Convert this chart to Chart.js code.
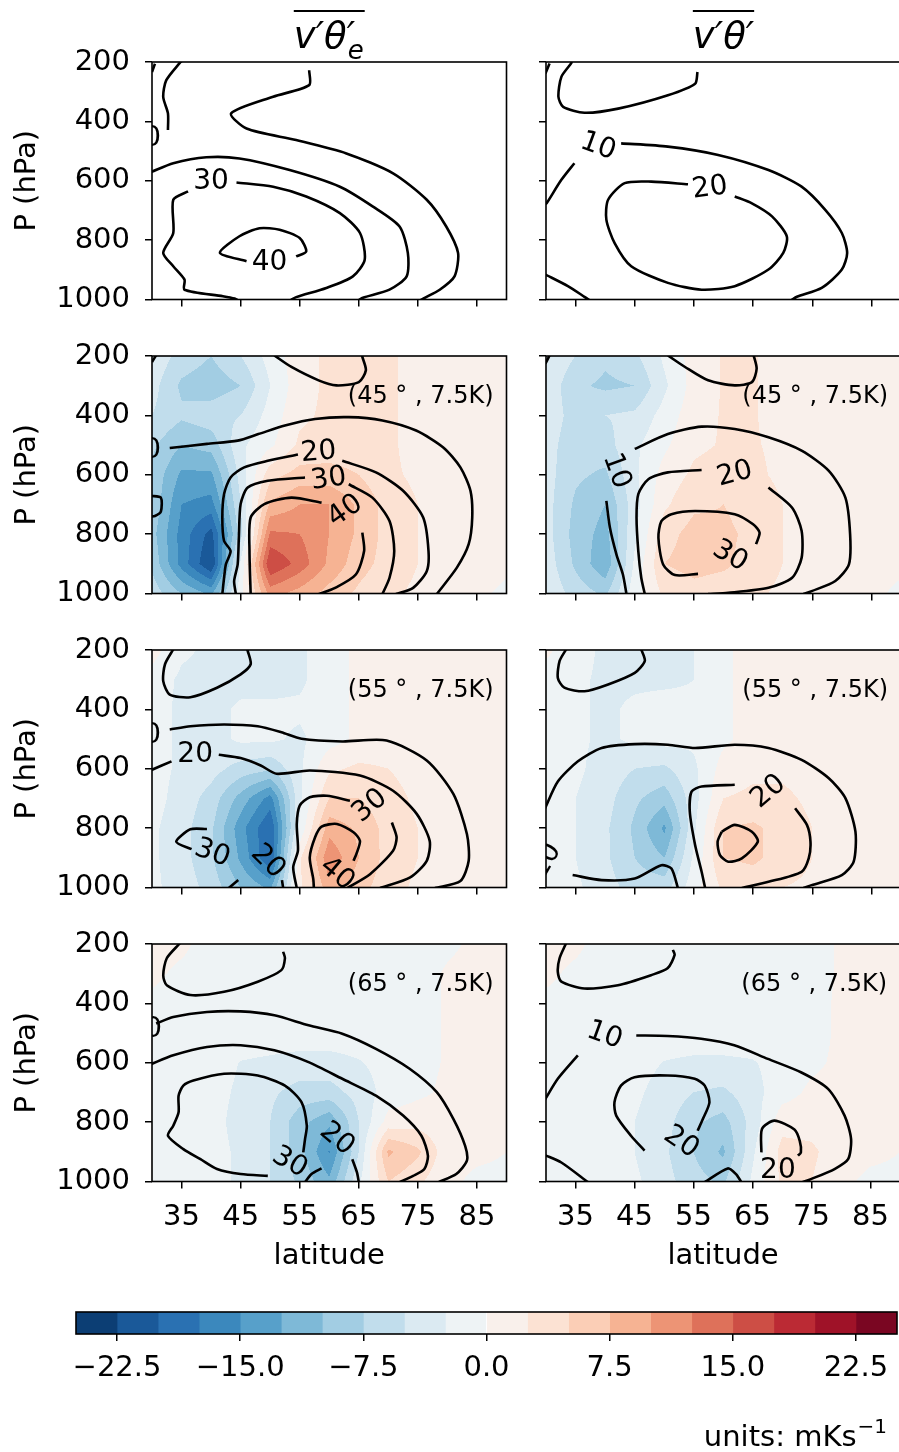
<!DOCTYPE html>
<html lang="en">
<head>
<meta charset="UTF-8">
<title>Eddy heat flux sections</title>
<script src="https://cdn.jsdelivr.net/npm/chart.js"></script>
<style>
    body {
        margin: 0;
        padding: 0;
        width: 899px;
        height: 1452px;
        overflow: hidden;
        background: #fff;
        position: relative;
    }
    canvas {
        position: absolute;
    }
</style>
</head>
<body>
<script>
// grid of the filled fields: latitude columns, pressure rows
const latGrid = [30, 35, 40, 45, 50, 55, 60, 65, 70, 75, 80, 85, 90];
const presGrid = [200, 300, 400, 500, 600, 700, 800, 900, 1000];
const latTicks = [35, 45, 55, 65, 75, 85];
const presTicks = [200, 400, 600, 800, 1000];
const cbLevels = [-25, -22.5, -20, -17.5, -15, -12.5, -10, -7.5, -5, -2.5, 0, 2.5, 5, 7.5, 10, 12.5, 15, 17.5, 20, 22.5, 25];
const cbTicks = [-22.5, -15, -7.5, 0, 7.5, 15, 22.5];

// anomaly fields (mKs^-1), one row per pressure level
const fill45e = [
    [-3, -6, -7.5, -5, -1.5, 1.5, 3, 3, 3, 1.5, 1, 1, 1],
    [-4, -8, -9, -7.5, -2.5, 1.5, 3, 3, 3, 1.5, 1, 1, 1],
    [-5, -7, -6, -5, -1.5, 2, 3, 3, 3, 1.5, 1, 1, 1],
    [-7, -10, -9, -3, -0.5, 3, 3.5, 3.5, 3, 1.5, 1, 1, 1],
    [-8, -13, -13, -4, 4, 6, 6, 5, 3, 2, 1.5, 1, 1],
    [-8, -15, -16, -5, 8, 10, 10, 7, 4, 2.5, 1.5, 1, 1],
    [-9, -16, -21, -6, 13, 12.5, 10, 7, 4, 2.5, 1.5, 1, 1],
    [-8, -16, -22.6, -2, 17.5, 14, 9.5, 6, 4, 2.5, 1.5, 1, 0.5],
    [-6, -10, -13, -1, 11, 9, 6.5, 4.5, 3, 2, 1, 0.5, -0.5]
];
const fill45 = [
    [-2.5, -5, -7, -5.5, -2, 1, 2.7, 2.7, 1.5, 1, 1, 1, 1],
    [-3, -7, -8, -7.5, -3, 1, 2.7, 2.7, 1.5, 1, 1, 1, 1],
    [-3.5, -6, -5, -4.5, -1.5, 1.5, 2.7, 2.7, 1.5, 1, 1, 1, 1],
    [-4, -6.5, -6, -3, -0.5, 2, 2.7, 2.7, 2, 1, 1, 1, 1],
    [-4, -7, -8, -3, 1, 3, 3.5, 3, 2, 1.5, 1, 1, 1],
    [-4, -8, -10, -3.5, 2, 4.5, 5, 4, 2.5, 1.5, 1, 1, 1],
    [-4, -8.5, -11, -3, 4, 6, 5.5, 4.5, 2.5, 1.5, 1, 1, 1],
    [-3.5, -8, -12, -2, 5, 6, 5.5, 4, 2.5, 1.5, 1, 1, 0.5],
    [-3, -6, -8, -1, 3, 4, 3.5, 3, 2, 1.5, 1, 0.5, -0.5]
];
const fill55e = [
    [1, -2, -3, -3.5, -3.5, -3, -1, 0.5, 1, 1, 1, 1, 1],
    [-1, -3, -3.5, -3.5, -3.5, -3, -1, 0.5, 1, 1, 1, 1, 1],
    [-1.5, -3, -3.5, -2, -2, -2, -1, 0.5, 1, 1, 1, 1, 1],
    [-1.5, -3, -3.5, -2, -2, -3, -1, 0.5, 1, 1, 1, 1, 1],
    [-1.5, -3, -4, -6, -7, -3, 2, 3, 2.5, 1.5, 1, 1, 1],
    [-1.5, -3.5, -6, -11, -16, -3, 5, 5, 3.5, 2, 1.5, 1, 1],
    [-2, -4, -7, -14, -20, -2, 9, 7, 4, 2.5, 1.5, 1, 1],
    [-2, -4, -7, -13, -20, 2, 12, 7.5, 4, 2.5, 1.5, 1, 1],
    [-2, -3.5, -6, -10, -13, 2, 9, 6, 3.5, 2, 1.5, 1, 0]
];
const fill55 = [
    [0.5, -1.5, -3, -3, -3, -2.5, -0.5, 1, 1, 1, 1, 1, 1],
    [-1, -2, -3, -3, -3, -2.5, -0.5, 1, 1, 1, 1, 1, 1],
    [-1, -2, -3, -2, -1.5, -2, -0.5, 1, 1, 1, 1, 1, 1],
    [-1, -2, -3, -2, -1.5, -2, -0.5, 1, 1, 1, 1, 1, 1],
    [-1, -2, -3.5, -5, -5.5, -3, 1, 2, 2, 1.5, 1, 1, 1],
    [-1, -2.5, -4, -7, -9, -3.5, 2.5, 3, 3, 2, 1, 1, 1],
    [-1, -2.5, -4.5, -8, -13, -3, 5, 5.5, 4, 2.5, 1.5, 1, 1],
    [-1, -2.5, -4.5, -7.5, -10, -2, 5, 5.5, 4, 2.5, 1.5, 1, 1],
    [-1, -2, -4, -6, -6, -1, 3, 3.5, 2.5, 2, 1, 1, 0.5]
];
const fill65e = [
    [1, 0.5, -1, -1, -1, -1, -1, -1, -1, -1, -0.5, 0.5, 0.5],
    [0.5, -0.5, -1, -1, -1, -1, -1, -1, -1, -1, 0.3, 1, 0.5],
    [-0.5, -1, -1, -1, -1, -1, -1, -1, -1, -1, 0.3, 1, 1],
    [-0.5, -1, -1, -1, -1, -1, -1, -1, -1, -1, 0.3, 1, 1],
    [-1, -1, -1.2, -2.6, -3, -3.5, -3.5, -2.7, -1.5, -1, 0.3, 1, 1],
    [-1, -1, -1.5, -3, -4.5, -6, -6, -4, -1.5, -0.5, 0.5, 1, 1],
    [-1, -1, -1.5, -3.5, -5, -9, -12, -5, 1, 1.5, 0.8, 1, 0.5],
    [-1, -1, -1.5, -3, -5, -9, -15.2, -5, 8, 5.5, 1, 0.5, 0],
    [-1, -1, -1.5, -3, -5, -8, -12, -3, 5, 3, 0.5, -0.5, -0.5]
];
const fill65 = [
    [1, 0.5, -1, -1, -1, -1, -1, -1, -1, -1, 0.3, 1, 1],
    [0.5, -0.5, -1, -1, -1, -1, -1, -1, -1, -1, 0.3, 1, 1],
    [-0.5, -1, -1, -1, -1, -1, -1, -1, -1, -1, 0.5, 1, 1],
    [-0.5, -1, -1, -1, -1, -1, -1, -1, -1, -1, 0.5, 1, 1],
    [-1, -1, -1, -1.5, -2.6, -3, -3, -2.7, -1.5, -0.5, 0.5, 1, 1],
    [-1, -1, -1, -2, -3.5, -5, -5.5, -3.5, -1, 0.5, 0.8, 1, 1],
    [-1, -1, -1, -2.5, -4, -7, -8.5, -4, 1.5, 1.5, 1, 1, 0.5],
    [-1, -1, -1, -2.5, -4.5, -7.5, -10.5, -3, 3.5, 3, 1, 0.5, 0],
    [-1, -1, -1, -2, -4, -6.5, -8, -2, 3, 2.5, 0.5, -0.5, -0.5]
];

// contour lines of the full flux, [latitude, hPa] pieces split at the labels
const lines1L = [
    [[30, 234], [30.5, 206]],
    [[35, 198], [34.7, 203], [32.4, 262], [31.9, 318], [32.7, 373], [32.7, 429]],
    [[56.6, 228], [56.6, 278], [50.5, 317], [43.4, 373], [46.0, 424], [54.4, 463], [62.9, 508], [70.8, 575], [76.5, 664], [79.8, 754], [81.8, 843], [81.2, 922], [78.7, 967], [75.9, 997], [75.5, 1002]],
    [[29.8, 571], [33.6, 541], [39.2, 521], [44.8, 525], [53.3, 564], [61.8, 620], [67.4, 687], [71.9, 754], [73.3, 843], [73.1, 922], [70.2, 967], [65.7, 994], [65.0, 1002]],
    [[36.1, 636], [33.6, 664], [33.6, 776], [31.9, 843], [33.6, 888], [35.5, 933], [35.5, 967], [42.0, 989], [44.0, 997], [44.5, 1002]],
    [[44.3, 606], [50.5, 620], [56.1, 653], [61.8, 709], [65.2, 776], [66.0, 866], [64.0, 922], [59.5, 961], [54.4, 992], [53.5, 1002]],
    [[46.0, 871], [41.5, 843], [44.8, 787], [48.2, 760], [51.6, 765], [55.0, 793], [56.1, 838], [54.4, 855]]
];
const labels1L = [['10', 28.5, 460, 0], ['30', 40.0, 603, 0], ['40', 49.9, 877, 0]];

const lines1R = [
    [[29.9, 239], [30.6, 205]],
    [[34.3, 198], [34.3, 203], [32.6, 250], [32.1, 317], [32.9, 351], [36.5, 371], [42.2, 357], [50.6, 312], [55.2, 273], [55.6, 234]],
    [[29.9, 678], [30.1, 676], [32.6, 597], [34.8, 541]],
    [[42.7, 474], [50.6, 485], [59.1, 513], [67.6, 564], [73.2, 620], [77.2, 698], [80.0, 776], [80.9, 843], [80.0, 899], [76.6, 961], [72.4, 991], [71.5, 1002]],
    [[61.9, 653], [64.8, 676], [68.2, 720], [70.7, 787], [70.1, 843], [67.6, 899], [61.9, 955], [56.3, 967], [50.6, 944], [44.4, 888], [41.6, 810], [40.2, 731], [40.5, 664], [43.3, 608], [47.8, 603], [54.0, 612]],
    [[29.9, 916], [33.7, 955], [36.5, 991], [37.3, 1002]]
];
const labels1R = [['10', 38.8, 485, 20], ['20', 57.7, 625, -8]];

const lines2L = [
    [[30, 220], [30.7, 198]],
    [[50.7, 198], [53.6, 237], [58.2, 282], [61.2, 299], [65.0, 288], [66.2, 248], [65.6, 203], [65.5, 198]],
    [[29.8, 671], [31.5, 677], [31.5, 724], [30.5, 739], [29.8, 741]],
    [[33.0, 510], [39.3, 496], [44.5, 485], [48.0, 463], [52.5, 434], [57.6, 412], [63.3, 406], [69.0, 417], [74.7, 451], [79.3, 508], [82.2, 575], [83.9, 654], [84.2, 744], [83.6, 834], [81.6, 913], [78.2, 1002]],
    [[54.7, 532], [49.6, 553], [45.6, 575], [43.3, 609], [42.2, 665], [41.9, 744], [42.2, 823], [43.3, 857], [42.5, 902], [42.2, 947], [41.9, 1002]],
    [[62.2, 553], [67.9, 592], [72.5, 654], [75.9, 744], [76.8, 857], [76.5, 925], [74.2, 981], [71.3, 1002]],
    [[55.9, 609], [49.6, 620], [46.2, 643], [45.0, 699], [44.7, 812], [44.5, 902], [43.9, 958], [44.2, 1002]],
    [[63.3, 632], [67.3, 677], [70.2, 756], [71.0, 857], [70.2, 947], [69.0, 1002]],
    [[58.7, 694], [53.6, 677], [49.0, 699], [46.7, 744], [46.5, 857], [46.7, 1002]],
    [[65.6, 795], [65.9, 857], [64.5, 936], [61.0, 981], [58.2, 1002]]
];
const labels2L = [['10', 28.5, 519, 0], ['20', 58.2, 525, -5], ['30', 59.9, 615, -8], ['40', 62.7, 722, -35]];

const lines2R = [
    [[29.9, 226], [30.6, 198]],
    [[50.6, 198], [53.5, 237], [57.4, 282], [61.9, 299], [64.8, 288], [65.6, 243], [65.1, 198]],
    [[40.2, 688], [40.8, 778], [41.9, 868], [43.0, 936], [43.6, 1002]],
    [[45.0, 513], [50.6, 463], [56.3, 438], [61.9, 446], [67.6, 474], [73.2, 519], [77.8, 587], [80.6, 677], [81.4, 801], [81.2, 902], [78.9, 958], [74.9, 992], [73.5, 1002]],
    [[56.3, 584], [50.6, 592], [47.3, 615], [45.6, 665], [45.3, 744], [45.6, 857], [46.1, 947], [46.7, 1002]],
    [[67.6, 643], [71.6, 711], [73.2, 789], [73.2, 880], [71.6, 947], [67.6, 981], [60.8, 998], [57.4, 1002]],
    [[65.5, 834], [66.1, 795], [65.0, 767], [61.9, 733], [55.2, 722], [51.2, 733], [49.5, 756], [49.0, 812], [49.8, 902], [51.8, 938], [55.7, 934]]
];
const labels2R = [['10', 41.9, 587, 70], ['20', 61.9, 598, -15], ['30', 61.1, 874, 30]];

const lines3L = [
    [[33.6, 198], [32.2, 248], [31.9, 305], [33.0, 350], [36.5, 359], [41.0, 327], [45.0, 282], [46.7, 248], [46.2, 203], [46.1, 198]],
    [[33.0, 468], [36.5, 457], [42.2, 451], [47.9, 457], [51.9, 477], [55.3, 499], [62.2, 508], [69.7, 505], [76.5, 572], [81.0, 685], [83.3, 820], [83.6, 910], [82.2, 978], [77.9, 1002]],
    [[33.3, 575], [29.8, 605]],
    [[41.3, 553], [45.0, 564], [48.4, 589], [51.1, 617], [56.7, 606], [65.2, 623], [70.8, 674], [74.8, 752], [77.0, 843], [76.5, 910], [73.7, 966], [68.6, 1002]],
    [[39.3, 803], [36.5, 804], [34.1, 846], [36.7, 871]],
    [[43.0, 1002], [44.6, 975]],
    [[52.0, 975], [52.2, 1002]],
    [[63.5, 708], [59.6, 691], [56.7, 696], [55.0, 724], [54.5, 786], [54.7, 876], [53.9, 932], [54.5, 1002]],
    [[70.6, 781], [71.4, 831], [70.8, 876], [66.9, 955], [63.0, 1002]],
    [[64.1, 910], [64.6, 887], [65.2, 843], [64.1, 814], [61.3, 786], [58.7, 795], [57.6, 831], [56.7, 899], [57.3, 972], [57.4, 1002]]
];
const labels3L = [['10', 28.5, 490, 0], ['20', 37.3, 553, 0], ['30', 40.2, 885, 20], ['20', 49.6, 913, 45], ['30', 66.9, 725, -40], ['40', 61.3, 955, 40]];

const lines3R = [
    [[33.4, 198], [32.3, 237], [32.0, 294], [33.1, 327], [36.5, 339], [40.5, 316], [45.0, 277], [46.7, 237], [46.1, 198]],
    [[29.8, 735], [32.0, 643], [35.4, 575], [39.4, 530], [45.0, 517], [50.6, 519], [55.2, 530], [61.9, 519], [67.6, 530], [73.2, 570], [77.8, 632], [80.6, 699], [82.3, 812], [82.0, 913], [80.0, 958], [74.9, 992], [73.5, 1002]],
    [[61.9, 654], [56.3, 660], [54.6, 677], [54.3, 744], [55.2, 857], [56.3, 947], [56.9, 1002]],
    [[72.1, 733], [74.1, 789], [74.7, 846], [74.4, 902], [73.2, 947], [67.6, 981], [63.1, 1002]],
    [[59.7, 812], [61.9, 789], [64.8, 812], [65.8, 846], [63.1, 902], [60.8, 913], [59.4, 891], [59.0, 846], [59.7, 812]],
    [[34.5, 958], [39.4, 975], [45.0, 970], [49.5, 925], [51.2, 936], [52.3, 1002]]
];
const labels3R = [['20', 67.6, 677, -40], ['10', 30.0, 910, -60]];

const lines4L = [
    [[34.7, 198], [32.5, 248], [31.9, 305], [32.5, 339], [36.5, 372], [42.2, 361], [47.9, 327], [51.9, 288], [52.5, 248], [52.2, 226]],
    [[30.7, 468], [33.6, 446], [39.3, 429], [45.0, 427], [50.7, 440], [56.5, 474], [62.2, 502], [67.9, 553], [73.6, 620], [78.2, 699], [81.0, 789], [83.0, 880], [83.3, 930], [81.5, 975], [78.5, 1002]],
    [[29.8, 605], [33.6, 575], [39.3, 547], [45.0, 541], [50.7, 558], [56.5, 598], [62.2, 654], [67.9, 711], [72.5, 778], [75.6, 846], [76.7, 913], [76.1, 958], [74.2, 981], [71.9, 1002]],
    [[55.6, 902], [55.9, 857], [56.2, 812], [55.3, 733], [52.5, 677], [47.9, 643], [42.2, 637], [37.0, 660], [35.3, 677], [34.5, 711], [34.5, 767], [33.6, 812], [32.7, 846], [35.3, 891], [38.2, 925], [41.0, 958], [45.0, 975], [49.6, 981]],
    [[55.9, 1002], [57.0, 975], [58.7, 956]],
    [[63.9, 925], [64.7, 970], [65.0, 1002]]
];
const labels4L = [['10', 28.7, 490, 0], ['30', 53.3, 936, 30], ['20', 61.3, 857, 40]];

const lines4R = [
    [[33.4, 198], [32.3, 248], [32.0, 294], [32.6, 327], [36.5, 350], [42.2, 339], [47.8, 305], [50.6, 282], [51.8, 237], [51.5, 220]],
    [[35.4, 575], [32.0, 654], [29.8, 725]],
    [[45.3, 508], [50.6, 510], [56.3, 519], [61.9, 541], [67.6, 587], [73.2, 632], [77.8, 688], [80.6, 778], [81.7, 857], [81.2, 925], [78.9, 958], [74.9, 992], [73.5, 1002]],
    [[55.7, 829], [56.6, 789], [57.7, 733], [56.9, 677], [55.2, 654], [50.6, 643], [45.0, 649], [42.7, 677], [41.6, 733], [41.9, 778], [44.4, 846], [46.7, 896]],
    [[29.8, 911], [32.6, 936], [37.1, 1002]],
    [[66.5, 902], [66.6, 823], [68.7, 795], [72.1, 825], [73.0, 863], [73.2, 902], [72.7, 913]],
    [[56.9, 1002], [60.8, 956], [62.2, 975], [63.1, 1002]]
];
const labels4R = [['10', 39.9, 508, 20], ['20', 52.9, 868, 35], ['20', 69.3, 962, 0]];

const panels = [
    { row: 0, col: 0, field: null, lines: lines1L, labels: labels1L, title: 'e' },
    { row: 0, col: 1, field: null, lines: lines1R, labels: labels1R, title: '' },
    { row: 1, col: 0, field: fill45e, lines: lines2L, labels: labels2L, tag: '(45 ° , 7.5K)' },
    { row: 1, col: 1, field: fill45, lines: lines2R, labels: labels2R, tag: '(45 ° , 7.5K)' },
    { row: 2, col: 0, field: fill55e, lines: lines3L, labels: labels3L, tag: '(55 ° , 7.5K)' },
    { row: 2, col: 1, field: fill55, lines: lines3R, labels: labels3R, tag: '(55 ° , 7.5K)' },
    { row: 3, col: 0, field: fill65e, lines: lines4L, labels: labels4L, tag: '(65 ° , 7.5K)' },
    { row: 3, col: 1, field: fill65, lines: lines4R, labels: labels4R, tag: '(65 ° , 7.5K)' }
];

const FONT = "'DejaVu Sans', sans-serif";
Chart.defaults.font.family = FONT;
Chart.defaults.color = '#000';

// RdBu_r colour stops, sampled at the middle of each filled level
const rdbuStops = ['#053061', '#2166ac', '#4393c3', '#92c5de', '#d1e5f0', '#f7f7f7', '#fddbc7', '#f4a582', '#d6604d', '#b2182b', '#67001f'];
function hexRgb(h) {
    return [parseInt(h.slice(1, 3), 16), parseInt(h.slice(3, 5), 16), parseInt(h.slice(5, 7), 16)];
}
function cmap(t) {
    const pos = Math.min(Math.max(t, 0), 1) * (rdbuStops.length - 1);
    const i = Math.min(Math.floor(pos), rdbuStops.length - 2);
    const f = pos - i;
    const a = hexRgb(rdbuStops[i]), b = hexRgb(rdbuStops[i + 1]);
    return a.map((v, k) => Math.round(v + (b[k] - v) * f));
}
const nBins = cbLevels.length - 1;
const binRgb = [];
for (let k = 0; k < nBins; k++) {
    const mid = (cbLevels[k] + cbLevels[k + 1]) / 2;
    binRgb.push(cmap((mid - cbLevels[0]) / (cbLevels[nBins] - cbLevels[0])));
}
const binCss = binRgb.map(c => `rgb(${c[0]},${c[1]},${c[2]})`);

function sampleField(grid, lat, p) {
    const dl = latGrid[1] - latGrid[0], dp = presGrid[1] - presGrid[0];
    let fx = (lat - latGrid[0]) / dl, fy = (p - presGrid[0]) / dp;
    fx = Math.min(Math.max(fx, 0), latGrid.length - 1);
    fy = Math.min(Math.max(fy, 0), presGrid.length - 1);
    const i = Math.min(Math.floor(fx), latGrid.length - 2);
    const j = Math.min(Math.floor(fy), presGrid.length - 2);
    const tx = fx - i, ty = fy - j;
    const top = grid[j][i] * (1 - tx) + grid[j][i + 1] * tx;
    const bot = grid[j + 1][i] * (1 - tx) + grid[j + 1][i + 1] * tx;
    return top * (1 - ty) + bot * ty;
}

// filled contours painted pixel by pixel through the chart scales
function fieldPlugin(grid) {
    return {
        id: 'field',
        beforeDatasetsDraw(chart) {
            if (!grid) return;
            const { ctx, chartArea: a, scales: { x, y } } = chart;
            const x0 = Math.floor(a.left), y0 = Math.floor(a.top);
            const w = Math.ceil(a.right) - x0, h = Math.ceil(a.bottom) - y0;
            const off = document.createElement('canvas');
            off.width = w; off.height = h;
            const octx = off.getContext('2d');
            const img = octx.createImageData(w, h);
            for (let j = 0; j < h; j++) {
                const p = y.getValueForPixel(y0 + j + 0.5);
                for (let i = 0; i < w; i++) {
                    const lat = x.getValueForPixel(x0 + i + 0.5);
                    const v = sampleField(grid, lat, p);
                    let k = Math.floor((v - cbLevels[0]) / (cbLevels[1] - cbLevels[0]));
                    k = Math.min(Math.max(k, 0), nBins - 1);
                    const c = binRgb[k];
                    const o = (j * w + i) * 4;
                    img.data[o] = c[0]; img.data[o + 1] = c[1]; img.data[o + 2] = c[2]; img.data[o + 3] = 255;
                }
            }
            octx.putImageData(img, 0, 0);
            ctx.save();
            ctx.beginPath();
            ctx.rect(a.left, a.top, a.right - a.left, a.bottom - a.top);
            ctx.clip();
            ctx.drawImage(off, x0, y0);
            ctx.restore();
        }
    };
}

function drawTitle(ctx, cx, sub) {
    ctx.save();
    ctx.fillStyle = '#000';
    ctx.strokeStyle = '#000';
    const big = `oblique 37px ${FONT}`, small = `oblique 26px ${FONT}`;
    ctx.font = big;
    const head = 'v′θ';
    const wHead = ctx.measureText(head).width;
    const wPrime = ctx.measureText('′').width;
    ctx.font = small;
    const wSub = sub ? ctx.measureText(sub).width : 0;
    const total = wHead + Math.max(wPrime, wSub + 2);
    const x0 = cx - total / 2;
    ctx.textAlign = 'left';
    ctx.textBaseline = 'alphabetic';
    ctx.font = big;
    ctx.fillText(head + '′', x0, 48);
    if (sub) {
        ctx.font = small;
        ctx.fillText(sub, x0 + wHead + 1, 59);
    }
    ctx.lineWidth = 2;
    ctx.beginPath();
    ctx.moveTo(x0, 11);
    ctx.lineTo(x0 + total, 11);
    ctx.stroke();
    ctx.restore();
}

// frame, inline contour labels, case tag and column titles
function decorPlugin(panel) {
    return {
        id: 'decor',
        afterDatasetsDraw(chart) {
            const { ctx, chartArea: a, scales: { x, y } } = chart;
            ctx.save();
            ctx.beginPath();
            ctx.rect(a.left, a.top, a.right - a.left, a.bottom - a.top);
            ctx.clip();
            ctx.fillStyle = '#000';
            ctx.font = `28px ${FONT}`;
            ctx.textAlign = 'center';
            ctx.textBaseline = 'middle';
            panel.labels.forEach(([t, lat, p, rot]) => {
                ctx.save();
                ctx.translate(x.getPixelForValue(lat), y.getPixelForValue(p));
                ctx.rotate(rot * Math.PI / 180);
                ctx.fillText(t, 0, 0);
                ctx.restore();
            });
            if (panel.tag) {
                ctx.font = `24px ${FONT}`;
                ctx.textAlign = 'right';
                ctx.textBaseline = 'alphabetic';
                ctx.fillText(panel.tag, a.right - 13, a.top + 47);
            }
            ctx.restore();

            ctx.save();
            ctx.strokeStyle = '#000';
            ctx.lineWidth = 1.6;
            ctx.strokeRect(a.left, a.top, a.right - a.left, a.bottom - a.top);
            ctx.restore();

            if (panel.row === 0) drawTitle(ctx, (a.left + a.right) / 2, panel.title);
        }
    };
}

const colLeft = [0, 520], colWidth = [520, 381];
const axisWidth = [152, 26], padRight = [13.5, 0];
const rowStep = 294, padTop = 62, panelH = 237.5;

function addCanvas(left, top, w, h) {
    const c = document.createElement('canvas');
    c.width = w; c.height = h;
    c.style.left = left + 'px';
    c.style.top = top + 'px';
    c.style.width = w + 'px';
    c.style.height = h + 'px';
    document.body.appendChild(c);
    return c;
}

panels.forEach(panel => {
    const last = panel.row === 3;
    // canvases overlap so each one holds its own panel, ticks and label overhang
    const h = last ? 408 : 340;
    const cv = addCanvas(colLeft[panel.col], panel.row * rowStep, colWidth[panel.col], h);
    const xAxisH = h - padTop - panelH;
    new Chart(cv, {
        type: 'line',
        data: {
            datasets: panel.lines.map(seg => ({
                data: seg.map(([lat, p]) => ({ x: lat, y: p })),
                borderColor: '#000',
                borderWidth: 2.6,
                pointRadius: 0,
                tension: 0.25,
                fill: false,
                clip: 0
            }))
        },
        options: {
            responsive: false,
            animation: false,
            devicePixelRatio: 1,
            events: [],
            layout: { padding: { top: padTop, right: padRight[panel.col], left: 0, bottom: 0 } },
            plugins: { legend: { display: false }, tooltip: { enabled: false } },
            scales: {
                x: {
                    type: 'linear',
                    min: 30,
                    max: 90,
                    afterBuildTicks: s => { s.ticks = latTicks.map(v => ({ value: v })); },
                    afterFit: s => { s.height = xAxisH; },
                    border: { display: false },
                    grid: { drawOnChartArea: false, drawTicks: true, tickLength: 7, color: '#000', lineWidth: 1.5 },
                    ticks: { display: last, color: '#000', font: { size: 29 }, padding: 12, maxRotation: 0, autoSkip: false, callback: v => String(v) },
                    title: { display: last, text: 'latitude', color: '#000', font: { size: 29 }, padding: { top: 0, bottom: 16 } }
                },
                y: {
                    type: 'linear',
                    reverse: true,
                    min: 200,
                    max: 1000,
                    afterBuildTicks: s => { s.ticks = presTicks.map(v => ({ value: v })); },
                    afterFit: s => { s.width = axisWidth[panel.col]; },
                    border: { display: false },
                    grid: { drawOnChartArea: false, drawTicks: true, tickLength: 7, color: '#000', lineWidth: 1.5 },
                    ticks: { display: panel.col === 0, color: '#000', font: { size: 29 }, padding: 15, autoSkip: false, callback: v => String(v) },
                    title: { display: panel.col === 0, text: 'P (hPa)', color: '#000', font: { size: 29 }, padding: { top: 10, bottom: 0 } }
                }
            }
        },
        plugins: [fieldPlugin(panel.field), decorPlugin(panel)]
    });
});

// colour bar: one floating bar per filled level
const cbCanvas = addCanvas(0, 1290, 899, 162);
new Chart(cbCanvas, {
    type: 'bar',
    data: {
        labels: ['level'],
        datasets: binCss.map((c, k) => ({
            data: [[cbLevels[k], cbLevels[k + 1]]],
            backgroundColor: c,
            borderWidth: 0,
            grouped: false,
            barPercentage: 1,
            categoryPercentage: 1
        }))
    },
    options: {
        indexAxis: 'y',
        responsive: false,
        animation: false,
        devicePixelRatio: 1,
        events: [],
        layout: { padding: { left: 76, right: 2, top: 22, bottom: 0 } },
        plugins: { legend: { display: false }, tooltip: { enabled: false } },
        scales: {
            x: {
                type: 'linear',
                min: cbLevels[0],
                max: cbLevels[cbLevels.length - 1],
                afterBuildTicks: s => { s.ticks = cbTicks.map(v => ({ value: v })); },
                afterFit: s => { s.height = 118; },
                border: { display: false },
                grid: { drawOnChartArea: false, drawTicks: true, tickLength: 7, color: '#000', lineWidth: 1.5 },
                ticks: {
                    color: '#000',
                    font: { size: 29 },
                    padding: 10,
                    maxRotation: 0,
                    autoSkip: false,
                    callback: v => v.toFixed(1).replace('-', '\u2212')
                }
            },
            y: { display: false }
        }
    },
    plugins: [{
        id: 'cbDecor',
        afterDatasetsDraw(chart) {
            const { ctx, chartArea: a } = chart;
            ctx.save();
            ctx.strokeStyle = '#000';
            ctx.lineWidth = 1.6;
            ctx.strokeRect(a.left, a.top, a.right - a.left, a.bottom - a.top);
            ctx.fillStyle = '#000';
            ctx.textBaseline = 'alphabetic';
            ctx.textAlign = 'left';
            ctx.font = `29px ${FONT}`;
            const main = 'units: mKs';
            const w1 = ctx.measureText(main).width;
            ctx.font = `20px ${FONT}`;
            const sup = '\u22121';
            const w2 = ctx.measureText(sup).width;
            const x0 = 887 - w1 - w2 - 1;
            ctx.font = `29px ${FONT}`;
            ctx.fillText(main, x0, 156);
            ctx.font = `20px ${FONT}`;
            ctx.fillText(sup, x0 + w1 + 1, 143);
            ctx.restore();
        }
    }]
});
</script>
</body>
</html>
